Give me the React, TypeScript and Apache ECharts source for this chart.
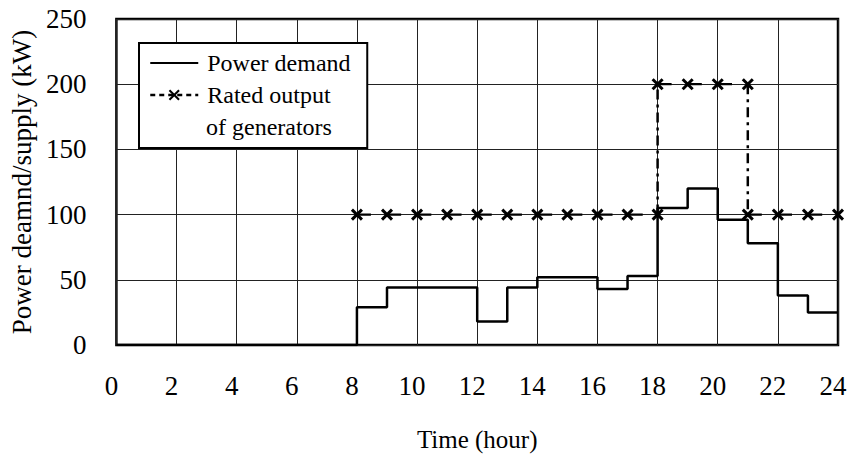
import React, { useEffect, useRef } from "react";
import * as echarts from "echarts";

const hours = [0, 1, 2, 3, 4, 5, 6, 7, 8, 9, 10, 11, 12, 13, 14, 15, 16, 17, 18, 19, 20, 21, 22, 23, 24];
const demand = [0, 0, 0, 0, 0, 0, 0, 0, 29, 44, 44, 44, 18, 44, 52, 52, 43, 53, 105, 120, 96, 78, 38, 25, 25];

const ratedHours = [8, 9, 10, 11, 12, 13, 14, 15, 16, 17, 18, 18, 19, 20, 21, 21, 22, 23, 24];
const ratedOutput = [100, 100, 100, 100, 100, 100, 100, 100, 100, 100, 100, 200, 200, 200, 200, 100, 100, 100, 100];

const xTicks = { min: 0, max: 24, interval: 2 };
const yTicks = { min: 0, max: 250, interval: 50 };

const FONT = "'Liberation Serif', 'Times New Roman', Times, serif";

export default function App() {
  const ref = useRef<HTMLDivElement>(null);
  useEffect(() => {
    if (!ref.current) return;
    const chart = echarts.init(ref.current, null, { renderer: "svg" });

    const demandData = hours.map((h, i) => [h, demand[i]]);

    const ratedFlat: any[] = [];
    const ratedJumps: any[] = [];
    for (let i = 0; i < ratedHours.length; i++) {
      ratedFlat.push([ratedHours[i], ratedOutput[i]]);
      if (i + 1 < ratedHours.length && ratedHours[i + 1] === ratedHours[i]) {
        ratedFlat.push([ratedHours[i], "-"]);
        if (ratedJumps.length) ratedJumps.push([ratedHours[i], "-"]);
        ratedJumps.push([ratedHours[i], ratedOutput[i]]);
        ratedJumps.push([ratedHours[i + 1], ratedOutput[i + 1]]);
      }
    }

    const xPath = "path://M0,0L10,10M0,10L10,0";

    chart.setOption({
      animation: false,
      backgroundColor: "#fff",
      textStyle: { fontFamily: FONT, color: "#000" },
      grid: {
        left: 113,
        right: 17,
        top: 19,
        bottom: 112,
        show: true,
        borderColor: "#000",
        borderWidth: 2.5,
        backgroundColor: "transparent",
      },
      xAxis: {
        type: "value",
        min: xTicks.min,
        max: xTicks.max,
        interval: xTicks.interval,
        name: "Time (hour)",
        nameLocation: "middle",
        nameGap: 82,
        nameTextStyle: { fontFamily: FONT, fontSize: 25, color: "#000" },
        axisLine: { show: false },
        axisTick: { show: false },
        axisLabel: {
          fontFamily: FONT,
          fontSize: 27,
          color: "#000",
          margin: 27,
          padding: [0, 10, 0, 0],
        },
        splitLine: { show: true, lineStyle: { color: "#222", width: 1 } },
      },
      yAxis: {
        type: "value",
        min: yTicks.min,
        max: yTicks.max,
        interval: yTicks.interval,
        name: "Power deamnd/supply (kW)",
        nameLocation: "middle",
        nameGap: 73,
        nameTextStyle: { fontFamily: FONT, fontSize: 27, color: "#000" },
        axisLine: { show: false },
        axisTick: { show: false },
        axisLabel: { fontFamily: FONT, fontSize: 27, color: "#000", margin: 30 },
        splitLine: { show: true, lineStyle: { color: "#222", width: 1 } },
      },
      legend: {
        left: 139,
        top: 43,
        orient: "vertical",
        padding: [5, 8, 38, 10],
        itemGap: 2,
        itemWidth: 48,
        itemHeight: 12,
        borderColor: "#000",
        borderWidth: 2,
        backgroundColor: "#fff",
        selectedMode: false,
        textStyle: {
          fontFamily: FONT,
          fontSize: 24,
          color: "#000",
          lineHeight: 30,
          width: 152,
          padding: [0, 0, 0, 4],
        },
        data: [
          {
            name: "Power demand",
            itemStyle: { color: "transparent", borderWidth: 0, opacity: 0 },
            lineStyle: { color: "#000", width: 2, opacity: 1 },
          },
          { name: "Rated output", lineStyle: { type: [5, 4], width: 2.5 } },
        ],
      },
      graphic: [
        {
          type: "text",
          left: 206,
          top: 112,
          z: 100,
          style: {
            text: "of generators",
            fontFamily: FONT,
            fontSize: 24,
            fill: "#000",
            lineHeight: 30,
          },
        },
      ],
      series: [
        {
          name: "Power demand",
          type: "line",
          step: "end",
          data: demandData,
          symbol: "none",
          lineStyle: { color: "#000", width: 2.5 },
          itemStyle: { color: "#000" },
          z: 3,
        },
        {
          name: "Rated output",
          type: "line",
          data: ratedFlat,
          connectNulls: false,
          symbol: xPath,
          symbolSize: 10,
          lineStyle: { color: "#000", width: 2.2, type: [14, 16.2] },
          itemStyle: { color: "#000", borderColor: "#000", borderWidth: 3 },
          z: 4,
        },
        {
          name: "rated-jumps",
          type: "line",
          data: ratedJumps,
          connectNulls: false,
          symbol: "none",
          lineStyle: { color: "#000", width: 2.5, type: [10, 5, 3, 5] },
          z: 2,
        },
      ],
    });
    return () => chart.dispose();
  }, []);
  return <div ref={ref} style={{ width: 855, height: 457, position: "absolute", left: 0, top: 0 }} />;
}
